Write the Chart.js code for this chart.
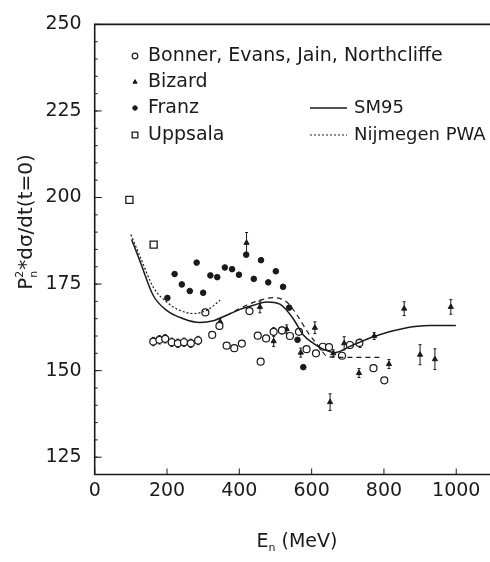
<!DOCTYPE html>
<html>
<head>
<meta charset="utf-8">
<script src="https://cdn.jsdelivr.net/npm/chart.js@4/dist/chart.umd.min.js"></script>
<style>
  html, body { margin: 0; padding: 0; background: #fff; overflow: hidden; }
  #wrap { width: 500px; height: 562px; }
</style>
</head>
<body>
<div id="wrap"><canvas id="chart"></canvas></div>
<script>
// axis ticks
const xTicks = [0, 200, 400, 600, 800, 1000];
const yTicks = [125, 150, 175, 200, 225, 250];

// Bonner, Evans, Jain, Northcliffe (open circles)
const bonnerE = [162, 179, 195, 213, 230, 247, 266, 286, 306, 325, 345, 365, 386, 407, 428, 451, 459, 474, 495, 518, 540, 565, 586, 612, 631, 648, 684, 706, 732, 771, 801];
const bonnerV = [158.4, 158.9, 159.2, 158.2, 157.9, 158.2, 157.9, 158.7, 166.8, 160.3, 162.9, 157.2, 156.5, 157.8, 167.2, 160.1, 152.6, 159.3, 161.2, 161.6, 160.0, 161.2, 156.2, 155.0, 156.9, 156.8, 154.3, 157.4, 158.0, 150.7, 147.2];
const bonnerErr = [1.2, 1.2, 1.2, 1.2, 1.2, 1.2, 1.2, 1.2, 0, 0, 1.0, 0, 0, 0, 0, 0, 0, 0, 1.2, 1.0, 0, 0, 0, 0, 0, 0, 0, 1.0, 0, 0, 0];

// Bizard (triangles with error bars)
const bizardE = [347, 420, 457, 495, 531, 570, 609, 651, 660, 690, 731, 734, 773, 814, 856, 900, 941, 985];
const bizardV = [164.1, 186.9, 168.4, 158.5, 162.0, 155.2, 162.4, 140.9, 155.0, 157.9, 149.3, 157.9, 160.0, 151.9, 167.9, 154.6, 153.3, 168.4];
const bizardErr = [1.0, 3.0, 1.7, 1.5, 1.2, 1.3, 1.7, 2.4, 1.0, 1.9, 1.3, 1.2, 1.0, 1.3, 2.0, 2.9, 3.0, 2.1];

// Franz (filled circles)
const franzE = [201, 221, 241, 263, 282, 300, 320, 339, 360, 380, 399, 419, 440, 460, 480, 501, 521, 538, 561, 577];
const franzV = [171.0, 177.9, 174.9, 173.0, 181.2, 172.5, 177.5, 177.0, 179.8, 179.3, 177.7, 183.5, 176.5, 181.9, 175.5, 178.7, 174.2, 168.2, 158.9, 151.0];

// Uppsala (open squares)
const uppsalaE = [96, 163];
const uppsalaV = [199.3, 186.4];

// SM95 (solid curve)
const sm95E = [102, 125, 162, 199, 245, 291, 328, 365, 402, 439, 476, 512, 549, 577, 605, 632, 665, 706, 771, 854, 928, 999];
const sm95V = [187.9, 181.7, 171.7, 167.4, 165.0, 163.9, 164.4, 166.0, 167.7, 168.9, 169.8, 169.2, 165.0, 160.3, 157.9, 156.2, 155.2, 157.0, 159.8, 162.2, 163.0, 163.0];

// Nijmegen PWA (dotted, low energy) and dashed continuation
const nijmE = [100, 125, 162, 199, 236, 273, 310, 347];
const nijmV = [189.3, 183.1, 174.1, 169.8, 167.4, 166.5, 167.4, 170.3];
const dashE = [365, 420, 466, 494, 531, 560, 590, 620, 645, 700, 794];
const dashV = [166.0, 168.9, 170.6, 171.1, 169.8, 166.0, 161.0, 157.0, 154.0, 153.8, 153.8];

const FONT = 'DejaVu Sans';
const INK = '#1a1a1a';

function pts(xs, ys) { return xs.map((x, i) => ({ x: x, y: ys[i] })); }

const errorBars = {
  id: 'errorBars',
  beforeDatasetsDraw(chart) {
    const ctx = chart.ctx;
    const yScale = chart.scales.y;
    ctx.save();
    ctx.strokeStyle = INK;
    ctx.lineWidth = 1;
    chart.data.datasets.forEach((ds, di) => {
      if (!ds.errors) return;
      const meta = chart.getDatasetMeta(di);
      meta.data.forEach((el, i) => {
        const e = ds.errors[i];
        if (!e) return;
        const v = ds.data[i].y;
        const top = yScale.getPixelForValue(v + e);
        const bot = yScale.getPixelForValue(v - e);
        ctx.beginPath();
        ctx.moveTo(el.x, top); ctx.lineTo(el.x, bot);
        ctx.moveTo(el.x - 1.5, top); ctx.lineTo(el.x + 1.5, top);
        ctx.moveTo(el.x - 1.5, bot); ctx.lineTo(el.x + 1.5, bot);
        ctx.stroke();
      });
    });
    ctx.restore();
  }
};

// frame is open on the right: the reference crops it at the image edge
const frameTicks = {
  id: 'frameTicks',
  afterDatasetsDraw(chart) {
    const { ctx, chartArea: a, scales: { x, y } } = chart;
    ctx.save();
    ctx.strokeStyle = INK;
    ctx.lineWidth = 1.6;
    ctx.beginPath();
    ctx.moveTo(a.right + 10, a.top); ctx.lineTo(a.left, a.top);
    ctx.lineTo(a.left, a.bottom); ctx.lineTo(a.right + 10, a.bottom);
    ctx.stroke();
    ctx.lineWidth = 1;
    ctx.beginPath();
    x.ticks.forEach(t => {
      const px = x.getPixelForValue(t.value);
      ctx.moveTo(px, a.bottom); ctx.lineTo(px, a.bottom - 6);
    });
    y.ticks.forEach(t => {
      const py = y.getPixelForValue(t.value);
      ctx.moveTo(a.left, py); ctx.lineTo(a.left + 7, py);
    });
    for (let v = y.min + 5; v < y.max; v += 5) {
      const py = y.getPixelForValue(v);
      ctx.moveTo(a.left, py); ctx.lineTo(a.left + 3, py);
    }
    ctx.stroke();
    ctx.restore();
  }
};

const axisTitles = {
  id: 'axisTitles',
  afterDraw(chart) {
    const ctx = chart.ctx;
    ctx.save();
    ctx.fillStyle = INK;
    ctx.textBaseline = 'middle';
    // y title
    ctx.translate(27, 222);
    ctx.rotate(-Math.PI / 2);
    const big = '20px ' + FONT, small = '11px ' + FONT;
    const rest = '*d\u03c3/dt(t=0)';
    ctx.font = small; const wn = ctx.measureText('n').width;
    ctx.font = big;
    const total = ctx.measureText('P').width + wn + 1 + ctx.measureText(rest).width;
    let cx = -total / 2;
    ctx.textAlign = 'left';
    ctx.fillText('P', cx, 0); cx += ctx.measureText('P').width;
    ctx.font = small;
    ctx.fillText('2', cx, -7);
    ctx.fillText('n', cx, 7);
    cx += wn + 1;
    ctx.font = big;
    ctx.fillText(rest, cx, 0);
    ctx.restore();

    // x title
    const bigX = '19px ' + FONT;
    ctx.save();
    ctx.fillStyle = INK;
    ctx.textBaseline = 'middle';
    ctx.textAlign = 'left';
    ctx.font = bigX;
    const we = ctx.measureText('E').width;
    ctx.font = small;
    const wsub = ctx.measureText('n').width;
    ctx.font = bigX;
    const wr = ctx.measureText(' (MeV)').width;
    let sx = 297 - (we + wsub + wr) / 2;
    ctx.fillText('E', sx, 542); sx += we;
    ctx.font = small; ctx.fillText('n', sx, 548); sx += wsub;
    ctx.font = bigX; ctx.fillText(' (MeV)', sx, 542);
    ctx.restore();
  }
};

const legendBox = {
  id: 'legendBox',
  afterDraw(chart) {
    const ctx = chart.ctx;
    const ds = chart.data.datasets;
    const rows = [56, 82, 108, 135];
    ctx.save();
    ctx.textBaseline = 'middle';
    ctx.textAlign = 'left';
    ctx.font = '19px ' + FONT;
    ds.filter(d => d.legendRow !== undefined && !d.showLine).forEach(d => {
      const y = rows[d.legendRow];
      ctx.fillStyle = d.backgroundColor; ctx.strokeStyle = d.borderColor;
      ctx.lineWidth = d.borderWidth;
      Chart.helpers.drawPoint(ctx, { pointStyle: d.pointStyle, radius: d.pointRadius * 0.8, borderWidth: d.borderWidth }, 135, y);
      ctx.fillStyle = INK;
      ctx.fillText(d.label, 148, y);
    });
    ctx.font = '18px ' + FONT;
    ds.filter(d => d.legendRow !== undefined && d.showLine).forEach(d => {
      const y = rows[d.legendRow];
      ctx.save();
      ctx.strokeStyle = d.borderColor;
      ctx.lineWidth = d.borderWidth;
      ctx.setLineDash(d.borderDash || []);
      ctx.beginPath();
      ctx.moveTo(310, y); ctx.lineTo(347, y);
      ctx.stroke();
      ctx.restore();
      ctx.fillStyle = INK;
      ctx.fillText(d.label, 354, y);
    });
    ctx.restore();
  }
};

const lineBase = { showLine: true, pointRadius: 0, fill: false, cubicInterpolationMode: 'monotone', borderColor: INK, backgroundColor: INK };

new Chart(document.getElementById('chart'), {
  type: 'scatter',
  data: {
    datasets: [
      Object.assign({ label: 'SM95', data: pts(sm95E, sm95V), borderWidth: 1.5, legendRow: 2 }, lineBase),
      Object.assign({ label: 'Nijmegen PWA', data: pts(nijmE, nijmV), borderWidth: 1.2, borderDash: [2, 2], legendRow: 3 }, lineBase),
      Object.assign({ label: 'Nijmegen PWA (cont.)', data: pts(dashE, dashV), borderWidth: 1.2, borderDash: [5, 4] }, lineBase),
      { label: 'Bonner, Evans, Jain, Northcliffe', data: pts(bonnerE, bonnerV), errors: bonnerErr, pointStyle: 'circle', pointRadius: 3.5, backgroundColor: '#fff', borderColor: INK, borderWidth: 1.2, legendRow: 0 },
      { label: 'Bizard', data: pts(bizardE, bizardV), errors: bizardErr, pointStyle: 'triangle', pointRadius: 3, backgroundColor: INK, borderColor: INK, borderWidth: 1, legendRow: 1 },
      { label: 'Franz', data: pts(franzE, franzV), pointStyle: 'circle', pointRadius: 2.8, backgroundColor: INK, borderColor: INK, borderWidth: 1, legendRow: 2 },
      { label: 'Uppsala', data: pts(uppsalaE, uppsalaV), pointStyle: 'rect', pointRadius: 5, backgroundColor: '#fff', borderColor: INK, borderWidth: 1.3, legendRow: 3 }
    ]
  },
  options: {
    responsive: true,
    maintainAspectRatio: false,
    animation: false,
    events: [],
    layout: { padding: { top: 19, right: 7.6, left: 0, bottom: 0 } },
    plugins: { legend: { display: false }, tooltip: { enabled: false } },
    scales: {
      x: {
        type: 'linear', min: 0, max: 1100,
        afterBuildTicks(s) { s.ticks = xTicks.map(v => ({ value: v })); },
        afterFit(s) { s.height = 87.5; },
        grid: { display: false, drawTicks: false },
        border: { display: false },
        ticks: { padding: 5, color: INK, font: { family: FONT, size: 19 }, maxRotation: 0, callback: v => String(v) }
      },
      y: {
        type: 'linear', min: 120, max: 250,
        afterBuildTicks(s) { s.ticks = yTicks.map(v => ({ value: v })); },
        afterFit(s) { s.width = 94.7; },
        grid: { display: false, drawTicks: false },
        border: { display: false },
        ticks: { padding: 13, color: INK, font: { family: FONT, size: 19 }, callback: v => String(v) }
      }
    }
  },
  plugins: [errorBars, frameTicks, axisTitles, legendBox]
});
</script>
</body>
</html>
